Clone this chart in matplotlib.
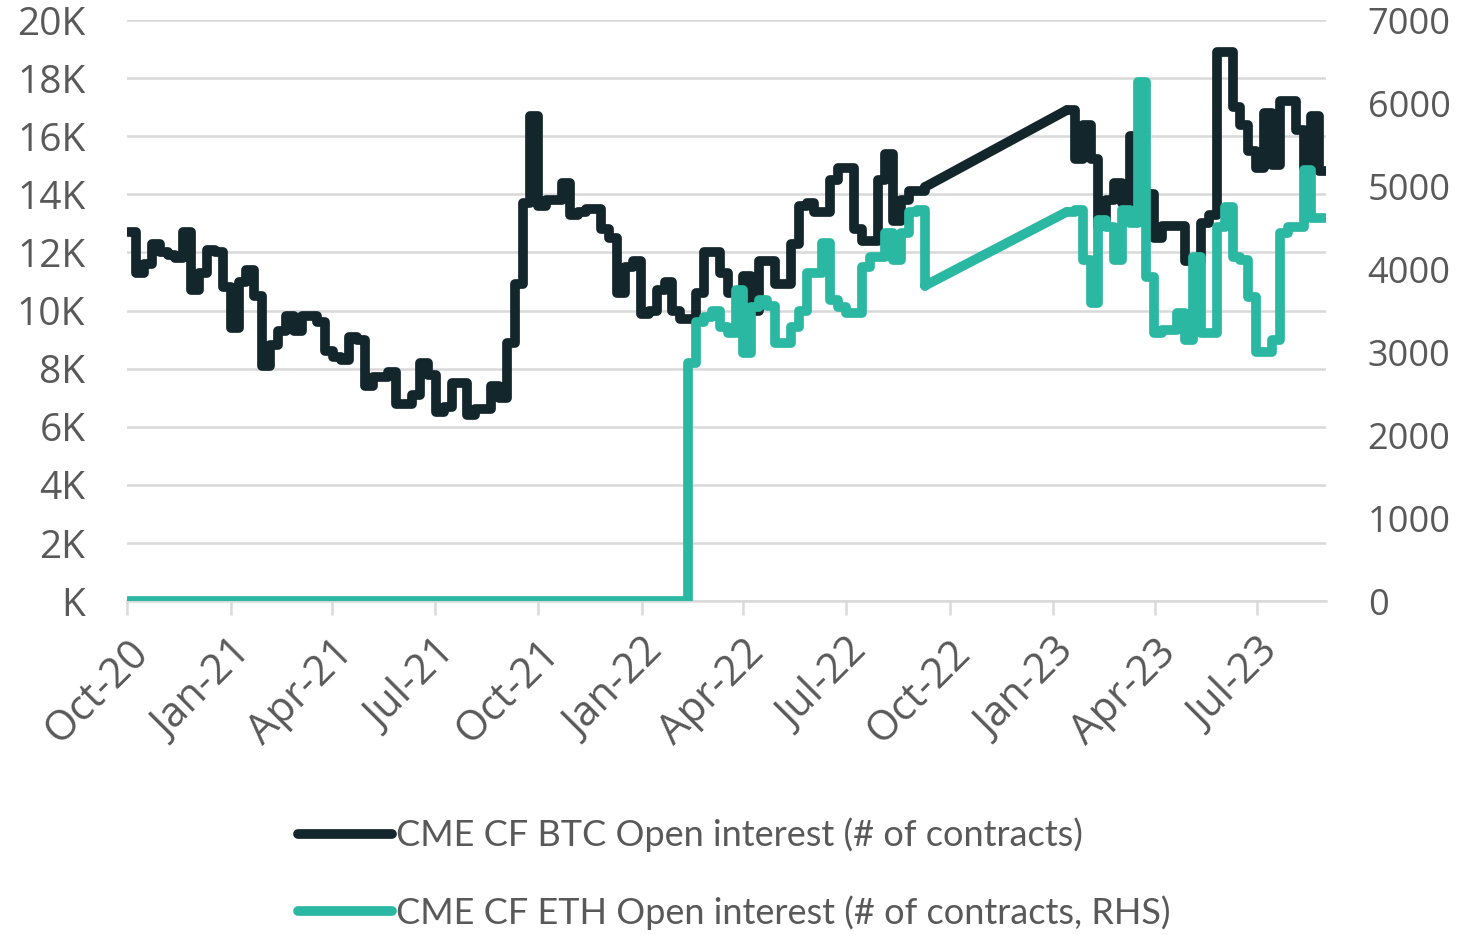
import matplotlib.pyplot as plt
import matplotlib.dates as mdates
import matplotlib.ticker as ticker
import numpy as np
import pandas as pd

plt.rcParams['font.family'] = ['Open Sans', 'DejaVu Sans']

# weekly observations, Oct-2020 .. Aug-2023 (NaN = no data, drawn as a straight connector)
weeks = pd.date_range('2020-10-02', periods=153, freq='7D')

# CME CF BTC open interest, thousands of contracts (left axis)
btc_k = [
    12.7, 11.3, 11.6, 12.3, 12.0, 11.9, 11.8, 12.7, 10.7, 11.3,
    12.1, 12.0, 10.8, 9.4, 11.0, 11.4, 10.5, 8.1, 8.8, 9.3,
    9.8, 9.3, 9.8, 9.8, 9.6, 8.6, 8.4, 8.3, 9.1, 9.0,
    7.4, 7.7, 7.7, 7.9, 6.8, 6.8, 7.1, 8.2, 7.8, 6.5,
    6.7, 7.5, 7.5, 6.4, 6.6, 6.6, 7.4, 7.0, 8.9, 10.9,
    13.7, 16.7, 13.6, 13.8, 13.8, 14.4, 13.3, 13.4, 13.5, 13.5,
    12.8, 12.5, 10.6, 11.5, 11.7, 9.9, 10.0, 10.7, 11.0, 10.0,
    9.7, 9.7, 10.6, 12.0, 12.0, 11.3, 10.6, 10.6, 11.2, 10.0,
    11.7, 11.7, 10.9, 10.9, 12.3, 13.6, 13.7, 13.4, 13.4, 14.5,
    14.9, 14.9, 12.8, 12.4, 12.4, 14.5, 15.4, 13.1, 13.8, 14.1,
    14.1, 14.25,
] + [np.nan] * 17 + [
    16.9, 15.2, 16.4, 15.2, 12.9, 13.8, 14.4, 13.7, 16.0, 14.0, 14.0,
    12.5, 12.9, 12.9, 12.9, 11.7, 11.7, 13.0, 13.3, 18.9, 18.9,
    17.0, 16.4, 15.5, 14.9, 16.8, 15.0, 17.2, 17.2, 16.2, 14.9,
    16.7, 14.8, 14.8,
]

# CME CF ETH open interest, contracts (right axis)
eth = [0] * 71 + [
    2870, 3360, 3420, 3500, 3300, 3230, 3750, 2990, 3540,
    3630, 3550, 3110, 3110, 3300, 3500, 3950, 3950, 4310, 3630,
    3540, 3470, 3470, 4020, 4150, 4150, 4430, 4110, 4430, 4690,
    4710, 3800,
] + [np.nan] * 17 + [
    4690, 4710, 4110, 3590, 4590, 4510, 4110, 4710, 4550, 6250, 3900,
    3230, 3270, 3270, 3470, 3150, 4150, 3230, 3230, 4510, 4750,
    4150, 4110, 3660, 3000, 3000, 3150, 4430, 4510, 4510, 5190,
    4620, 4620, 4620,
]

btc_label = 'CME CF BTC Open interest (# of contracts)'
eth_label = 'CME CF ETH Open interest (# of contracts, RHS)'

BTC_COLOR = '#13262b'
ETH_COLOR = '#2bb8a3'
GREY = '#595959'
GRID = '#d9d9d9'


def draw_gapped(axis, dates, values, **kw):
    # step line per run of data, straight line across the missing weeks
    vals = np.asarray(values, dtype=float)
    idx = np.flatnonzero(~np.isnan(vals))
    runs = np.split(idx, np.flatnonzero(np.diff(idx) > 1) + 1)
    lines = []
    for r in runs:
        lines += axis.plot(dates[r], vals[r], drawstyle='steps-post', **kw)
    for a, b in zip(runs[:-1], runs[1:]):
        axis.plot([dates[a[-1]], dates[b[0]]], [vals[a[-1]], vals[b[0]]], **kw)
    return lines[0]


fig = plt.figure(figsize=(14.68, 9.35), dpi=100, facecolor='white')
ax = fig.add_axes([0.0865, 0.357, 0.8168, 0.6216])
ax2 = ax.twinx()

style = dict(lw=7, solid_joinstyle='round', solid_capstyle='round')
h1 = draw_gapped(ax, weeks, btc_k, color=BTC_COLOR, **style)
h2 = draw_gapped(ax2, weeks, eth, color=ETH_COLOR, **style)

ax.set_xlim(pd.Timestamp('2020-10-01'), pd.Timestamp('2023-08-31'))
ax.set_ylim(0, 20)
ax2.set_ylim(0, 7000)

ax.yaxis.set_major_locator(ticker.MultipleLocator(2))
ax.yaxis.set_major_formatter(ticker.FuncFormatter(lambda v, p: 'K' if v == 0 else '%dK' % v))
ax2.yaxis.set_major_locator(ticker.MultipleLocator(1000))

ax.xaxis.set_major_locator(mdates.MonthLocator(bymonth=(1, 4, 7, 10)))
ax.xaxis.set_major_formatter(mdates.DateFormatter('%b-%y'))

ax.grid(axis='y', color=GRID, lw=1.8)
ax.set_axisbelow(True)
for a in (ax, ax2):
    for s in a.spines.values():
        s.set_visible(False)
ax.spines['bottom'].set_visible(True)
ax.spines['bottom'].set_color(GRID)
ax.spines['bottom'].set_linewidth(1.8)

ax.tick_params(axis='x', direction='out', length=10, width=1.8, color=GRID,
               labelsize=30, labelcolor=GREY, pad=12)
ax.tick_params(axis='y', length=0, labelsize=28, labelcolor=GREY, pad=30)
ax2.tick_params(axis='y', length=0, labelsize=26, labelcolor=GREY, pad=30)
plt.setp(ax.get_xticklabels(), rotation=45, ha='right', rotation_mode='anchor')

fig.legend([h1, h2], [btc_label, eth_label], loc='upper center',
           bbox_to_anchor=(0.5, 1 - 785 / 935), frameon=False,
           prop={'family': 'Lato', 'size': 26}, labelcolor=GREY,
           handlelength=2.6, handletextpad=0.1, labelspacing=1.2)

fig.savefig('out.png', dpi=100, facecolor='white')
